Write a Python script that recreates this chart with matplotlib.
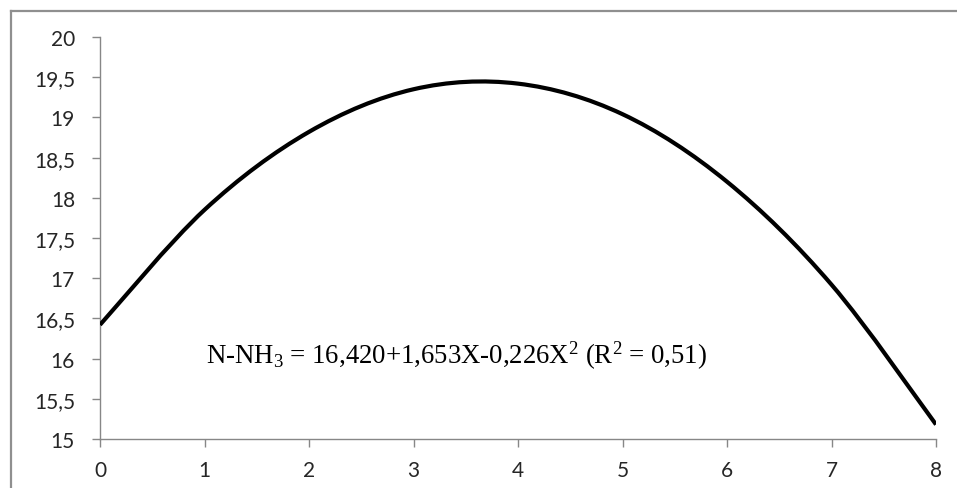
import matplotlib.pyplot as plt
from matplotlib.path import Path
from matplotlib.patches import PathPatch
from matplotlib.lines import Line2D

# Values (X = 0..8)
x_values = [0, 1, 2, 3, 4, 5, 6, 7, 8]
y_values = [16.42, 17.85, 18.82, 19.35, 19.42, 19.04, 18.20, 16.92, 15.18]

y_ticks = [15, 15.5, 16, 16.5, 17, 17.5, 18, 18.5, 19, 19.5, 20]
y_tick_labels = ['15', '15,5', '16', '16,5', '17', '17,5', '18', '18,5', '19', '19,5', '20']
x_ticks = [0, 1, 2, 3, 4, 5, 6, 7, 8]

equation = r'N-NH$_3$ = 16,420+1,653X-0,226X$^2$ (R$^2$ = 0,51)'

plt.rcParams['mathtext.fontset'] = 'custom'
plt.rcParams['mathtext.rm'] = 'Liberation Serif'
plt.rcParams['mathtext.it'] = 'Liberation Serif'

axis_gray = '#878787'


def smooth_path(xs, ys):
    # Excel-style smoothed line: cubic Bezier segments through the points
    pts = list(zip(xs, ys))
    n = len(pts)
    verts = [pts[0]]
    codes = [Path.MOVETO]
    for i in range(n - 1):
        p0 = pts[i - 1] if i > 0 else pts[i]
        p1 = pts[i]
        p2 = pts[i + 1]
        p3 = pts[i + 2] if i + 2 < n else pts[i + 1]
        c1 = (p1[0] + (p2[0] - p0[0]) / 6, p1[1] + (p2[1] - p0[1]) / 6)
        c2 = (p2[0] - (p3[0] - p1[0]) / 6, p2[1] - (p3[1] - p1[1]) / 6)
        verts += [c1, c2, p2]
        codes += [Path.CURVE4] * 3
    return Path(verts, codes)


fig = plt.figure(figsize=(9.57, 4.89), dpi=100)
ax = fig.add_axes([100 / 957, 1 - 440 / 489, 836 / 957, 402 / 489])

patch = PathPatch(smooth_path(x_values, y_values), facecolor='none',
                  edgecolor='black', linewidth=3, capstyle='butt', zorder=3)
ax.add_patch(patch)

ax.set_xlim(0, 8)
ax.set_ylim(15, 20)
ax.set_xticks(x_ticks)
ax.set_xticklabels([str(v) for v in x_ticks])
ax.set_yticks(y_ticks)
ax.set_yticklabels(y_tick_labels)

for side in ['top', 'right']:
    ax.spines[side].set_visible(False)
for side in ['left', 'bottom']:
    ax.spines[side].set_color(axis_gray)
    ax.spines[side].set_linewidth(1)

ax.tick_params(axis='y', direction='out', length=6, width=1, color=axis_gray, pad=12)
ax.tick_params(axis='x', direction='out', length=6, width=1, color=axis_gray, pad=9)
for lbl in ax.get_xticklabels() + ax.get_yticklabels():
    lbl.set_fontfamily('Lato')
    lbl.set_fontsize(15)
    lbl.set_color('#262626')

ax.text(1.01, 15.945, equation, fontfamily='Liberation Serif', fontsize=19.3,
        color='black', va='baseline', ha='left')

# outer chart frame (only top and left edges visible)
fig.add_artist(Line2D([11 / 957, 1], [1 - 12 / 489, 1 - 12 / 489],
                      transform=fig.transFigure, color='#8f8f8f', linewidth=1.6))
fig.add_artist(Line2D([11 / 957, 11 / 957], [0, 1 - 12 / 489],
                      transform=fig.transFigure, color='#8f8f8f', linewidth=1.6))

fig.savefig('out.png', dpi=100)
